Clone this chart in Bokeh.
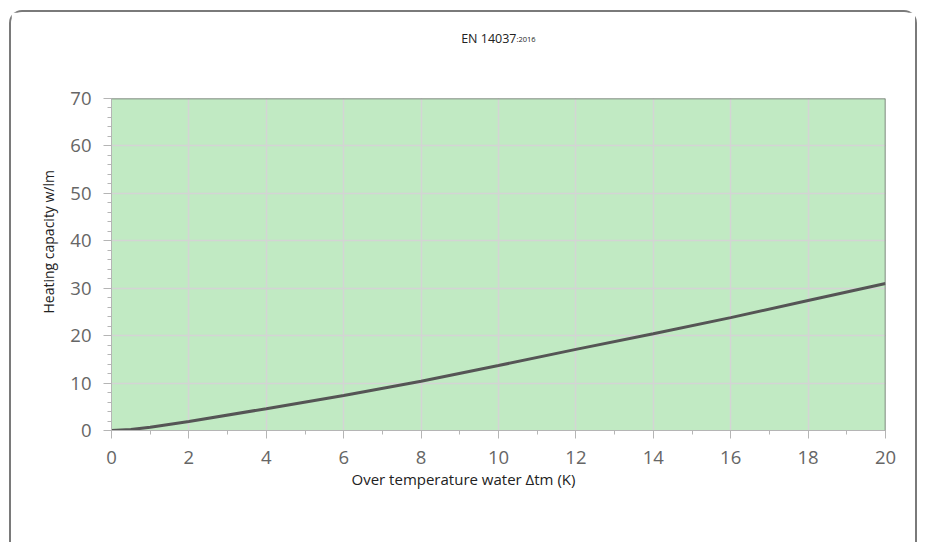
from bokeh.plotting import figure
from bokeh.layouts import column
from bokeh.models import SingleIntervalTicker, Range1d, Label, Span, Title
from bokeh.embed import file_html
from bokeh.resources import INLINE

# Data
delta_t = [0, 0.5, 1, 2, 4, 6, 8, 10, 12, 14, 16, 18, 20]
capacity = [0, 0.2, 0.7, 1.9, 4.6, 7.4, 10.4, 13.7, 17.1, 20.4, 23.8, 27.4, 31.0]
title_main = "EN 14037"
title_sub = ":2016"
x_label = "Over temperature water \u0394tm (K)"
y_label = "Heating capacity w/lm"

FONT = "Open Sans"
W = 908
H_HEAD = 48
H_MAIN = 484
BORDER = "2px solid #7a7a7a"

# header strip holding the chart title
head = figure(width=W, height=H_HEAD, output_backend="svg", toolbar_location=None,
              x_axis_location=None, y_axis_location=None,
              min_border_left=0, min_border_right=0, min_border_top=0, min_border_bottom=0)
head.styles = {"border-top": BORDER, "border-left": BORDER, "border-right": BORDER,
               "border-radius": "13px 13px 0 0", "margin": "10px 0 0 9px"}
head.grid.visible = False
head.outline_line_color = None
head.background_fill_color = "white"
head.border_fill_color = "white"
head.add_layout(Label(x=405, y=22, x_units="screen", y_units="screen", text=title_main,
                      text_align="right", text_baseline="alphabetic", text_font=FONT,
                      text_font_size="12.5px", text_color="#222222"))
head.add_layout(Label(x=405, y=22, x_units="screen", y_units="screen", text=title_sub,
                      text_align="left", text_baseline="alphabetic", text_font=FONT,
                      text_font_size="7.5px", text_color="#222222"))

p = figure(width=W, height=H_MAIN, output_backend="svg", toolbar_location=None,
           x_range=Range1d(0, 20), y_range=Range1d(0, 70),
           min_border_left=100, min_border_right=34, min_border_top=40, min_border_bottom=112)
p.styles = {"border-left": BORDER, "border-right": BORDER, "margin": "0 0 0 9px"}
p.background_fill_color = "#c1eac3"
p.border_fill_color = "white"
p.outline_line_color = None

p.xgrid.grid_line_color = "#d4d4d4"
p.ygrid.grid_line_color = "#d4d4d4"
p.xgrid.grid_line_width = 1.5
p.ygrid.grid_line_width = 1.5

for ax, tk in ((p.xaxis[0], SingleIntervalTicker(interval=2, num_minor_ticks=2)),
               (p.yaxis[0], SingleIntervalTicker(interval=10, num_minor_ticks=5))):
    ax.ticker = tk
    ax.axis_line_color = "#b5b5b5"
    ax.major_tick_line_color = "#b5b5b5"
    ax.minor_tick_line_color = "#b5b5b5"
    ax.major_tick_in = 0
    ax.major_tick_out = 8
    ax.minor_tick_in = 0
    ax.minor_tick_out = 4
    ax.major_label_text_font = FONT
    ax.major_label_text_font_size = "18.5px"
    ax.major_label_text_color = "#666666"
    ax.major_label_standoff = 12

p.add_layout(Span(location=70, dimension="width", line_color="#6a6a6a", line_width=1.5))
p.add_layout(Span(location=20, dimension="height", line_color="#6a6a6a", line_width=1.5))

p.line(delta_t, capacity, line_color="#555555", line_width=3)

p.add_layout(Title(text=x_label, align="left", offset=240, standoff=0,
                   text_font=FONT, text_font_size="15px", text_font_style="normal",
                   text_color="#222222"), "below")
p.add_layout(Title(text=y_label, align="left", offset=117, standoff=19,
                   text_font=FONT, text_font_size="14px", text_font_style="normal",
                   text_color="#222222"), "left")

layout = column(head, p, spacing=0)
open("out.html", "w").write(file_html(layout, INLINE))
